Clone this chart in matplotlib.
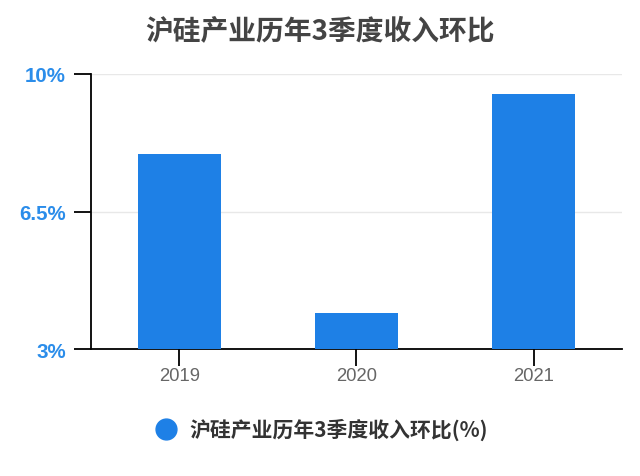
import matplotlib as mpl
mpl.use('Agg')
import matplotlib.pyplot as plt

plt.rcParams['font.family'] = ['Noto Sans CJK SC', 'DejaVu Sans']

# 数据
years = ['2019', '2020', '2021']
huanbi = [7.95, 3.92, 9.49]
yticks = [3, 6.5, 10]
ytick_labels = ['3%', '6.5%', '10%']

bar_color = '#1E80E6'
fig = plt.figure(figsize=(6.4, 4.77), dpi=100)
ax = fig.add_axes([0.142, 0.266, 0.830, 0.577])

x = range(len(years))
ax.bar(x, huanbi, width=0.47, color=bar_color, label='沪硅产业历年3季度收入环比(%)', zorder=3)

ax.set_xlim(-0.5, 2.5)
ax.set_ylim(3, 10)
ax.set_xticks(list(x))
ax.set_xticklabels(years, fontsize=13.3, color='#666666', family='Liberation Sans')
ax.set_yticks(yticks)
ax.set_yticklabels(ytick_labels, fontsize=14.8, fontweight='bold', color='#2B8DEA',
                   family='Liberation Sans')
ax.yaxis.grid(True, color='#E8E8E8', linewidth=1, zorder=0)

for s in ['top', 'right']:
    ax.spines[s].set_visible(False)
for s in ['left', 'bottom']:
    ax.spines[s].set_color('black')
    ax.spines[s].set_linewidth(1.3)
ax.tick_params(axis='both', length=12, width=1.3, color='black')
ax.tick_params(axis='x', pad=1)
ax.tick_params(axis='y', pad=6)

fig.suptitle('沪硅产业历年3季度收入环比', fontsize=20, fontweight='bold',
             color='#444444', y=0.965)

handle = plt.Line2D([], [], marker='o', linestyle='', markersize=15,
                    color=bar_color)
fig.legend([handle], ['沪硅产业历年3季度收入环比(%)'], loc='center',
           bbox_to_anchor=(0.503, 0.098), frameon=False, handletextpad=0.6,
           handlelength=1.0, prop={'size': 15, 'weight': 'bold'},
           labelcolor='#333333')

fig.savefig('out.png', dpi=100)
